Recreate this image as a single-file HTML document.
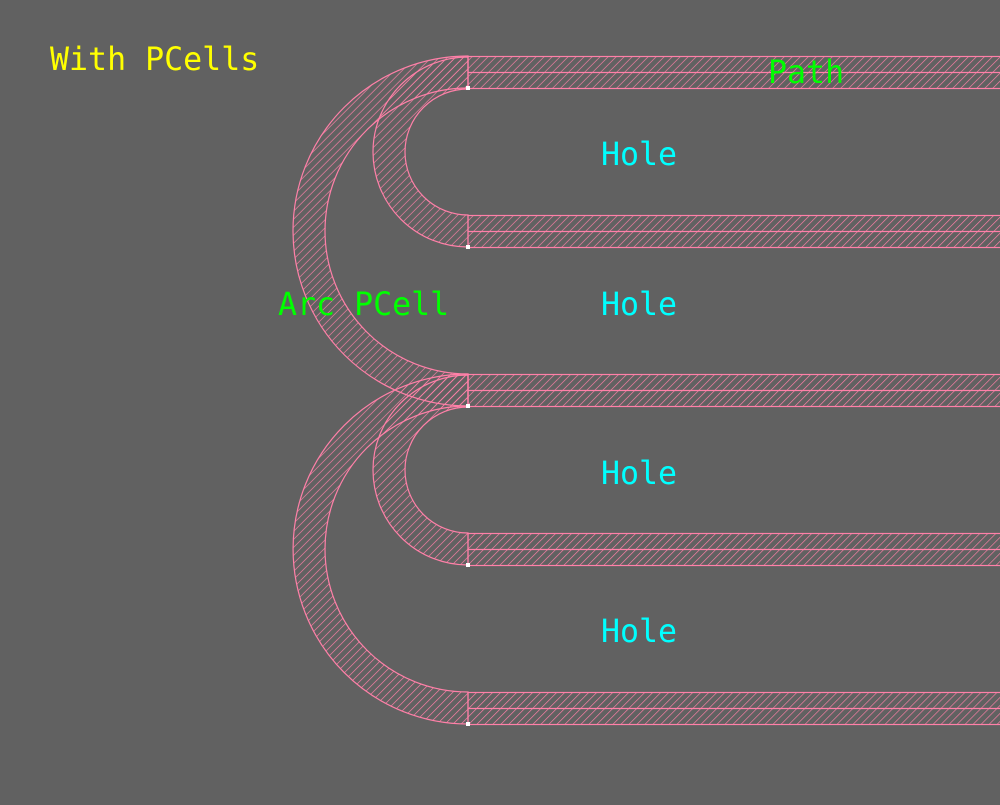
<!DOCTYPE html>
<html><head><style>html,body{margin:0;padding:0;background:#616161;}</style></head>
<body>
<svg width="1000" height="800" viewBox="0 0 1000 800" xmlns="http://www.w3.org/2000/svg">
<defs>
<pattern id="h" width="5.66" height="8" patternUnits="userSpaceOnUse" patternTransform="rotate(45)">
<line x1="0" y1="0" x2="0" y2="8" stroke="#ff80a8" stroke-width="1.3"/>
</pattern>
</defs>
<rect width="1000" height="800" fill="#616161"/>
<g fill="url(#h)" stroke="#ff80a8" stroke-width="1.2">
<path d="M468 56 A175 175 0 0 0 468 406 L468 374 A143 143 0 0 1 468 88 Z"/>
<path d="M468 57 A95 95 0 0 0 468 247 L468 215 A63 63 0 0 1 468 89 Z"/>
<path d="M468 374 A175 175 0 0 0 468 724 L468 692 A143 143 0 0 1 468 406 Z"/>
<path d="M468 375 A95 95 0 0 0 468 565 L468 533 A63 63 0 0 1 468 407 Z"/>
<rect x="468" y="56.5" width="540" height="32"/>
<rect x="468" y="215.5" width="540" height="32"/>
<rect x="468" y="374.5" width="540" height="32"/>
<rect x="468" y="533.5" width="540" height="32"/>
<rect x="468" y="692.5" width="540" height="32"/>
</g>
<g stroke="#ff80a8" stroke-width="1.2">
<line x1="468" y1="72.5" x2="1000" y2="72.5"/>
<line x1="468" y1="231.5" x2="1000" y2="231.5"/>
<line x1="468" y1="390.5" x2="1000" y2="390.5"/>
<line x1="468" y1="549.5" x2="1000" y2="549.5"/>
<line x1="468" y1="708.5" x2="1000" y2="708.5"/>
</g>
<g fill="#fff">
<rect x="466" y="86" width="4" height="4"/>
<rect x="466" y="245" width="4" height="4"/>
<rect x="466" y="404" width="4" height="4"/>
<rect x="466" y="563" width="4" height="4"/>
<rect x="466" y="722" width="4" height="4"/>
</g>
<g font-family="'DejaVu Sans Mono','Liberation Mono',monospace" font-size="31.6">
<text x="50" y="70" fill="#ffff00">With PCells</text>
<text x="768" y="83" fill="#00ff00">Path</text>
<text x="278" y="315" fill="#00ff00">Arc PCell</text>
<text x="639" y="165" fill="#00ffff" text-anchor="middle">Hole</text>
<text x="639" y="315" fill="#00ffff" text-anchor="middle">Hole</text>
<text x="639" y="484" fill="#00ffff" text-anchor="middle">Hole</text>
<text x="639" y="642" fill="#00ffff" text-anchor="middle">Hole</text>
</g>
</svg>
</body></html>
